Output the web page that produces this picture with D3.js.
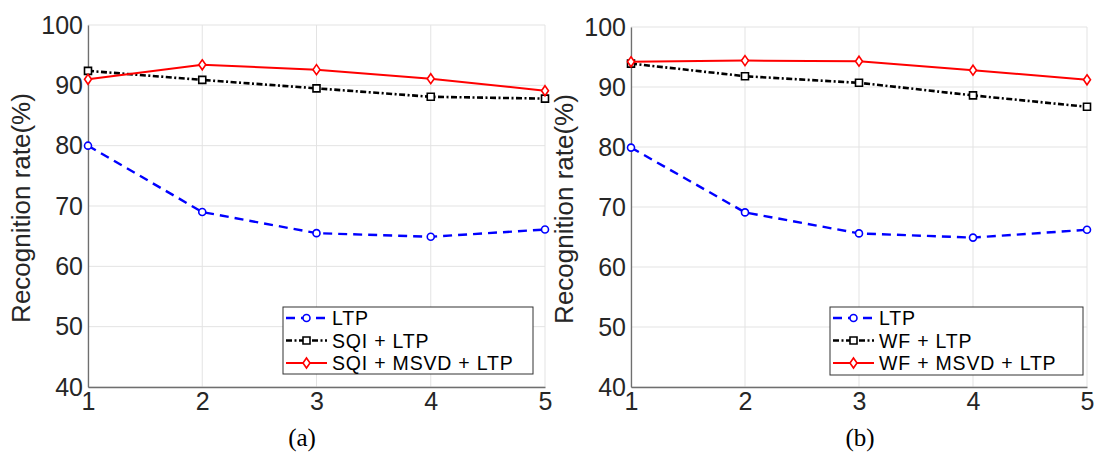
<!DOCTYPE html>
<html>
<head>
<meta charset="utf-8">
<script src="https://cdn.jsdelivr.net/npm/d3@7"></script>
<style>
  body { margin: 0; background: #fff; }
  svg { display: block; }
</style>
</head>
<body>
<svg id="chart" width="1096" height="456"></svg>
<script>
const xValues = [1, 2, 3, 4, 5];
const yTicks = [40, 50, 60, 70, 80, 90, 100];

// panel (a)
const ltpA = [80.0, 69.0, 65.5, 64.9, 66.1];
const sqiLtp = [92.4, 90.9, 89.5, 88.1, 87.8];
const sqiMsvdLtp = [91.0, 93.4, 92.6, 91.1, 89.1];
const namesA = ["LTP", "SQI + LTP", "SQI + MSVD + LTP"];

// panel (b)
const ltpB = [79.9, 69.1, 65.6, 64.9, 66.2];
const wfLtp = [93.9, 91.8, 90.7, 88.6, 86.7];
const wfMsvdLtp = [94.2, 94.4, 94.3, 92.8, 91.2];
const namesB = ["LTP", "WF + LTP", "WF + MSVD + LTP"];

const styles = [
  { color: "#0000ff", dash: "9,6", width: 2.4, marker: "circle" },
  { color: "#000000", dash: "6,2.5,2,2.5", width: 2.6, marker: "square" },
  { color: "#ff0000", dash: null, width: 2, marker: "diamond" }
];

const sans = "'Liberation Sans', Arial, Helvetica, sans-serif";
const svg = d3.select("#chart");

function drawPanel(opts) {
  const g = svg.append("g");
  const x = d3.scaleLinear().domain([1, 5]).range([opts.left, opts.right]);
  const y = d3.scaleLinear().domain([40, 100]).range([opts.bottom, opts.top]);

  // grid
  g.append("g").selectAll("line").data(xValues).join("line")
    .attr("x1", d => x(d)).attr("x2", d => x(d))
    .attr("y1", opts.top).attr("y2", opts.bottom)
    .attr("stroke", "#e3e3e3").attr("stroke-width", 1);
  g.append("g").selectAll("line").data(yTicks).join("line")
    .attr("x1", opts.left).attr("x2", opts.right)
    .attr("y1", d => y(d)).attr("y2", d => y(d))
    .attr("stroke", "#e3e3e3").attr("stroke-width", 1);

  // axes
  const xAxis = g.append("g")
    .attr("transform", "translate(0," + opts.bottom + ")")
    .call(d3.axisBottom(x).tickValues(xValues).tickFormat(d3.format("d")).tickSize(0).tickPadding(5));
  const yAxis = g.append("g")
    .attr("transform", "translate(" + opts.left + ",0)")
    .call(d3.axisLeft(y).tickValues(yTicks).tickSize(0).tickPadding(5));
  [xAxis, yAxis].forEach(a => {
    a.select(".domain").attr("stroke", "#6f6f6f").attr("stroke-width", 1.3);
    a.selectAll("text")
      .attr("fill", "#262626")
      .style("font-family", sans)
      .style("font-size", "25px");
  });

  // y label
  g.append("text")
    .attr("transform", "translate(" + (opts.left - 58) + "," + ((opts.top + opts.bottom) / 2 + 2) + ") rotate(-90)")
    .attr("text-anchor", "middle")
    .attr("fill", "#262626")
    .style("font-family", sans)
    .style("font-size", "26px")
    .text("Recognition rate(%)");

  // series
  const line = d3.line().x((d, i) => x(xValues[i])).y(d => y(d));
  opts.series.forEach((s, k) => {
    const st = styles[k];
    g.append("path")
      .datum(s)
      .attr("d", line)
      .attr("fill", "none")
      .attr("stroke", st.color)
      .attr("stroke-width", st.width)
      .attr("stroke-dasharray", st.dash);
    drawMarkers(g, s.map((v, i) => [x(xValues[i]), y(v)]), st);
  });

  // legend
  const lg = g.append("g");
  lg.append("rect")
    .attr("x", opts.legend.x).attr("y", opts.legend.y)
    .attr("width", opts.legend.w).attr("height", opts.legend.h)
    .attr("fill", "#fff").attr("stroke", "#333").attr("stroke-width", 1);
  opts.names.forEach((n, k) => {
    const st = styles[k];
    const ry = opts.legend.y + 11 + k * 22.5;
    const lx0 = opts.legend.x + 3, lx1 = opts.legend.x + 44;
    lg.append("line")
      .attr("x1", lx0).attr("x2", lx1).attr("y1", ry).attr("y2", ry)
      .attr("stroke", st.color).attr("stroke-width", st.width)
      .attr("stroke-dasharray", st.dash);
    drawMarkers(lg, [[(lx0 + lx1) / 2, ry]], st);
    lg.append("text")
      .attr("x", opts.legend.x + 49).attr("y", ry)
      .attr("dy", "0.36em")
      .attr("fill", "#000")
      .style("font-family", sans)
      .style("font-size", "19.5px")
      .style("letter-spacing", "0.8px")
      .text(n);
  });

  // caption
  g.append("text")
    .attr("x", opts.captionX).attr("y", 446)
    .attr("text-anchor", "middle")
    .attr("fill", "#000")
    .style("font-family", "'Liberation Serif', 'Times New Roman', serif")
    .style("font-size", "25px")
    .text(opts.caption);
}

function drawMarkers(g, pts, st) {
  const sel = g.append("g").selectAll("path").data(pts).join("path")
    .attr("transform", d => "translate(" + d[0] + "," + d[1] + ")")
    .attr("fill", "#fff")
    .attr("stroke", st.color)
    .attr("stroke-width", 1.6);
  if (st.marker === "circle") sel.attr("d", "M3.5,0A3.5,3.5,0,1,1,-3.5,0A3.5,3.5,0,1,1,3.5,0Z");
  else if (st.marker === "square") sel.attr("d", "M-3.5,-3.5H3.5V3.5H-3.5Z");
  else sel.attr("d", "M0,-5L3.5,0L0,5L-3.5,0Z");
}

drawPanel({
  left: 88, right: 545, top: 25, bottom: 387,
  series: [ltpA, sqiLtp, sqiMsvdLtp], names: namesA,
  legend: { x: 283, y: 307, w: 250, h: 67 },
  caption: "(a)", captionX: 302
});

drawPanel({
  left: 631, right: 1087, top: 27, bottom: 387,
  series: [ltpB, wfLtp, wfMsvdLtp], names: namesB,
  legend: { x: 830, y: 307, w: 253, h: 68 },
  caption: "(b)", captionX: 860
});
</script>
</body>
</html>
